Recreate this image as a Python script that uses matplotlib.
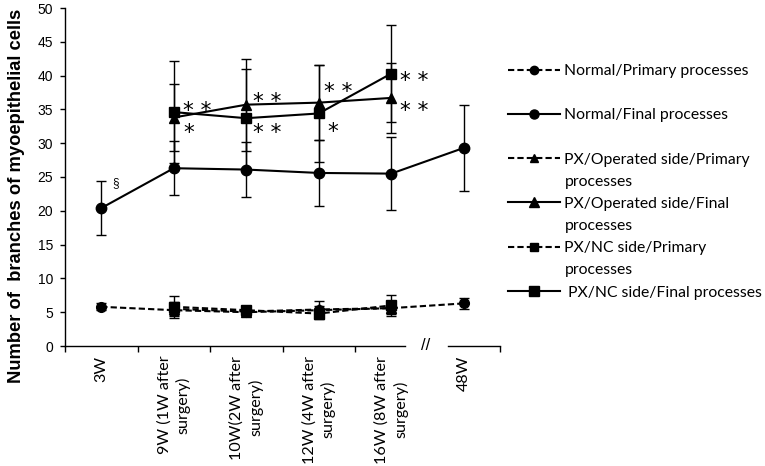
import numpy as np
import matplotlib.pyplot as plt
from matplotlib.lines import Line2D

categories = ['3W', '9W (1W after\nsurgery)', '10W(2W after\nsurgery)',
              '12W (4W after\nsurgery)', '16W (8W after\nsurgery)', '48W']

# Normal group: all six time points
normal_primary = [5.8, 5.3, 5.0, 5.3, 5.6, 6.3]
normal_primary_err = [0.5, 0.7, 0.5, 0.6, 0.7, 0.8]
normal_final = [20.4, 26.3, 26.1, 25.6, 25.5, 29.3]
normal_final_err = [4.0, 4.0, 4.1, 4.9, 5.4, 6.3]

# PX groups: 9W..16W only
px_op_primary = [5.5, 5.1, 5.4, 5.6]
px_op_primary_err = [1.0, 0.5, 1.3, 0.8]
px_op_final = [33.8, 35.7, 36.0, 36.7]
px_op_final_err = [5.0, 6.8, 5.6, 5.2]
px_nc_primary = [5.8, 5.3, 4.8, 6.0]
px_nc_primary_err = [1.6, 0.6, 0.8, 1.6]
px_nc_final = [34.6, 33.7, 34.4, 40.3]
px_nc_final_err = [7.5, 7.3, 7.2, 7.2]

# significance marks (text, category position, value)
marks = [('§', 0.20, 24.1),
         ('* *', 1.32, 34.7), ('*', 1.21, 31.5),
         ('* *', 2.29, 36.1), ('* *', 2.29, 31.5),
         ('* *', 3.27, 37.6), ('*', 3.19, 31.7),
         ('* *', 4.31, 39.2), ('* *', 4.31, 34.7)]

x_all = np.arange(len(categories))
x_px = x_all[1:5]

fig = plt.figure(figsize=(7.65, 4.66), dpi=100)
ax = fig.add_axes([65 / 765, 120 / 466, 435 / 765, 338 / 466])

dash = (0, (3, 1.5))
common = dict(color='black', lw=1.5, elinewidth=1.0, capsize=3.5, capthick=1.0)

series = [
    (x_all, normal_primary, normal_primary_err, dash, 'o', 7, 'Normal/Primary processes'),
    (x_all, normal_final, normal_final_err, '-', 'o', 7.5, 'Normal/Final processes'),
    (x_px, px_op_primary, px_op_primary_err, dash, '^', 7, 'PX/Operated side/Primary processes'),
    (x_px, px_op_final, px_op_final_err, '-', '^', 7.5, 'PX/Operated side/Final processes'),
    (x_px, px_nc_primary, px_nc_primary_err, dash, 's', 7, 'PX/NC side/Primary processes'),
    (x_px, px_nc_final, px_nc_final_err, '-', 's', 7.5, 'PX/NC side/Final processes'),
]
handles = []
for xs, ys, es, ls, mk, ms, lab in series:
    ax.errorbar(xs, ys, yerr=es, linestyle=ls, marker=mk, markersize=ms, **common)
    handles.append(Line2D([], [], color='black', lw=1.5, linestyle=ls, marker=mk, markersize=ms - 1))

for txt, xv, yv in marks:
    if txt == '§':
        ax.text(xv, yv, txt, fontsize=8.5, ha='center', va='center', family='Liberation Sans')
    else:
        ax.text(xv, yv, txt, fontsize=15.5, ha='center', va='center', family='DejaVu Sans')

ax.set_xlim(-0.5, 5.5)
ax.set_ylim(0, 50)
ax.set_yticks(np.arange(0, 51, 5))
ax.tick_params(axis='y', length=3.6, width=1, pad=5, labelsize=10)
for lab in ax.get_yticklabels():
    lab.set_family('Liberation Sans')

# boundary ticks below the axis, labels at category centres
ax.set_xticks([-0.5, 0.5, 1.5, 2.5, 3.5, 5.5])
ax.set_xticks(x_all, minor=True)
ax.set_xticklabels(categories, minor=True, rotation=90, ha='center', va='top',
                   multialignment='center', family='Lato', fontsize=11.6, linespacing=1.35)
ax.tick_params(axis='x', which='major', length=4.5, width=1, labelbottom=False)
ax.tick_params(axis='x', which='minor', length=0, pad=7)

for s in ['top', 'right', 'bottom']:
    ax.spines[s].set_visible(False)
ax.spines['left'].set_linewidth(1)

# broken bottom axis
ax.plot([-0.5, 4.19], [0, 0], color='black', lw=1, clip_on=False)
ax.plot([4.78, 5.5], [0, 0], color='black', lw=1, clip_on=False)
ax.text(4.48, 0, '//', fontsize=12, ha='center', va='center', family='Liberation Sans')

fig.text(17 / 765, 1 - 196 / 466, 'Number of  branches of myoepithelial cells',
         rotation=90, ha='center', va='center', fontsize=13.2, fontweight='bold',
         family='Liberation Sans')

blank = Line2D([], [], linestyle='none')
leg_handles = [handles[0], blank, handles[1], blank, handles[2], blank, handles[3], blank,
               handles[4], blank, handles[5]]
leg_labels = ['Normal/Primary processes', ' ', 'Normal/Final processes', ' ',
              'PX/Operated side/Primary', 'processes', 'PX/Operated side/Final', 'processes',
              'PX/NC side/Primary', 'processes', ' PX/NC side/Final processes']
fig.legend(leg_handles, leg_labels, loc='upper left', bbox_to_anchor=(508 / 765, 1 - 64 / 466),
           frameon=False, borderpad=0, borderaxespad=0, handlelength=3.3, handletextpad=0.3,
           labelspacing=0.52, prop={'family': 'Lato', 'size': 11.3})

fig.savefig('out.png', dpi=100)
